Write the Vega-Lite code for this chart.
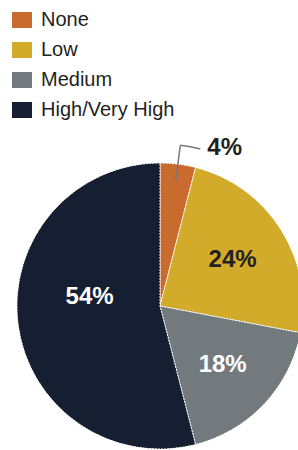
{
  "$schema": "https://vega.github.io/schema/vega-lite/v6.json",
  "width": 276,
  "height": 276,
  "autosize": {"type": "none"},
  "padding": {"left": 22, "top": 168, "right": 0, "bottom": 6},
  "background": "white",
  "config": {"view": {"stroke": null}},
  "data": {
    "values": [
      {"category": "None", "value": 4, "label": "4%", "order": 1},
      {"category": "Low", "value": 24, "label": "24%", "order": 2},
      {"category": "Medium", "value": 18, "label": "18%", "order": 3},
      {"category": "High/Very High", "value": 54, "label": "54%", "order": 4}
    ]
  },
  "transform": [
    {"stack": "value", "groupby": [], "sort": [{"field": "order"}], "as": ["v0", "v1"]},
    {"calculate": "(datum.v0 + datum.v1) / 2", "as": "mid"}
  ],
  "layer": [
    {
      "mark": {"type": "arc", "radius": 143, "stroke": "#ffffff", "strokeWidth": 1, "strokeDash": [2, 1]},
      "encoding": {
        "theta": {"field": "v0", "type": "quantitative", "scale": {"domain": [0, 100]}},
        "theta2": {"field": "v1"},
        "color": {
          "field": "category",
          "type": "nominal",
          "scale": {
            "domain": ["None", "Low", "Medium", "High/Very High"],
            "range": ["#C96A2E", "#D3AB2B", "#737A7E", "#161E31"]
          },
          "legend": {
            "title": null,
            "orient": "none",
            "legendX": -10,
            "legendY": -158,
            "padding": 0,
            "symbolType": "M-1,-0.8H1V0.8H-1Z",
            "symbolSize": 400,
            "symbolStrokeWidth": 0,
            "labelFont": "Liberation Sans",
            "labelFontSize": 20,
            "labelColor": "#231F20",
            "labelOffset": 9,
            "labelLimit": 300,
            "rowPadding": 10
          }
        }
      }
    },
    {
      "transform": [{"filter": "datum.category === 'None'"}],
      "mark": {"type": "arc", "radius": 162, "radius2": 126, "filled": false, "stroke": "#777777", "strokeWidth": 1.5},
      "encoding": {
        "theta": {"field": "mid", "type": "quantitative"},
        "theta2": {"field": "mid"}
      }
    },
    {
      "transform": [{"filter": "datum.category === 'None'"}],
      "mark": {"type": "arc", "radius": 162, "radius2": 162, "filled": false, "stroke": "#777777", "strokeWidth": 1.5},
      "encoding": {
        "theta": {"field": "mid", "type": "quantitative"},
        "theta2": {"field": "v1"}
      }
    },
    {
      "transform": [{"filter": "datum.category === 'None'"}],
      "mark": {"type": "text", "radius": 162, "align": "left", "baseline": "middle", "dx": 7, "dy": -1, "font": "Liberation Sans", "fontWeight": "bold", "fontSize": 24, "color": "#231F20"},
      "encoding": {
        "theta": {"field": "v1", "type": "quantitative"},
        "text": {"field": "label"}
      }
    },
    {
      "transform": [{"filter": "datum.category === 'Low' || datum.category === 'Medium'"}],
      "mark": {"type": "text", "radius": 86, "align": "center", "baseline": "middle", "font": "Liberation Sans", "fontWeight": "bold", "fontSize": 24},
      "encoding": {
        "theta": {"field": "mid", "type": "quantitative"},
        "text": {"field": "label"},
        "color": {"condition": {"test": "datum.category === 'Low'", "value": "#231F20"}, "value": "#ffffff"}
      }
    },
    {
      "transform": [{"filter": "datum.category === 'High/Very High'"}],
      "mark": {"type": "text", "radius": 71, "thetaOffset": 0.25, "align": "center", "baseline": "middle", "font": "Liberation Sans", "fontWeight": "bold", "fontSize": 24, "color": "#ffffff"},
      "encoding": {
        "theta": {"field": "mid", "type": "quantitative"},
        "text": {"field": "label"}
      }
    }
  ]
}
